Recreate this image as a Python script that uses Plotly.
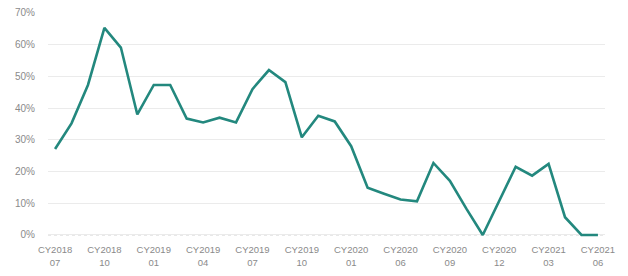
import plotly.graph_objects as go

periods = ["CY2018 07", "CY2018 08", "CY2018 09", "CY2018 10", "CY2018 11", "CY2018 12",
           "CY2019 01", "CY2019 02", "CY2019 03", "CY2019 04", "CY2019 05", "CY2019 06",
           "CY2019 07", "CY2019 08", "CY2019 09", "CY2019 10", "CY2019 11", "CY2019 12",
           "CY2020 01", "CY2020 02", "CY2020 04", "CY2020 06", "CY2020 07", "CY2020 08",
           "CY2020 09", "CY2020 10", "CY2020 11", "CY2020 12", "CY2021 01", "CY2021 02",
           "CY2021 03", "CY2021 04", "CY2021 05", "CY2021 06"]
values = [27.1, 35.2, 47.3, 65.3, 59.1, 38.0, 47.3, 47.3, 36.7, 35.5, 37.0, 35.5,
          46.0, 52.0, 48.2, 30.8, 37.6, 35.8, 28.0, 14.9, 13.0, 11.2, 10.6, 22.7,
          17.1, 8.3, 0.0, 10.5, 21.5, 18.7, 22.4, 5.6, 0.0, 0.0]
tick_periods = ["CY2018 07", "CY2018 10", "CY2019 01", "CY2019 04", "CY2019 07", "CY2019 10",
                "CY2020 01", "CY2020 06", "CY2020 09", "CY2020 12", "CY2021 03", "CY2021 06"]
y_ticks = [0, 0.1, 0.2, 0.3, 0.4, 0.5, 0.6, 0.7]

fig = go.Figure()
fig.add_trace(go.Scatter(
    x=periods, y=[v / 100 for v in values], mode="lines",
    line=dict(color="#23887e", width=2.6), hoverinfo="x+y",
))

fig.update_layout(
    width=620, height=268,
    margin=dict(l=40, r=23, t=4, b=38),
    paper_bgcolor="white", plot_bgcolor="white",
    showlegend=False,
    font=dict(family="Liberation Sans, Arial, sans-serif", size=9, color="#808080"),
    shapes=[dict(type="line", xref="paper", yref="y", x0=0, x1=1, y0=0, y1=0,
                 line=dict(color="#cfcfcf", width=1, dash="dot"), layer="below")],
)
fig.update_xaxes(
    type="category", categoryorder="array", categoryarray=periods,
    range=[-0.43, len(periods) - 1 + 0.43],
    tickmode="array", tickvals=tick_periods,
    ticktext=[p.replace(" ", "<br>") for p in tick_periods],
    showgrid=False, zeroline=False, showline=False,
    ticks="outside", ticklen=0, ticklabelstandoff=3,
    tickfont=dict(size=9.5, color="#8a8a8a"),
    automargin=False,
)
fig.update_yaxes(
    range=[-0.0095, 0.7031],
    tickmode="array", tickvals=y_ticks, tickformat=".0%",
    showgrid=True, gridcolor="#ebebeb", gridwidth=1,
    zeroline=False,
    ticks="outside", ticklen=0, ticklabelstandoff=10,
    ticklabeloverflow="allow",
    tickfont=dict(size=10, color="#8a8a8a"),
    automargin=False,
)

fig.write_html("out.html")
